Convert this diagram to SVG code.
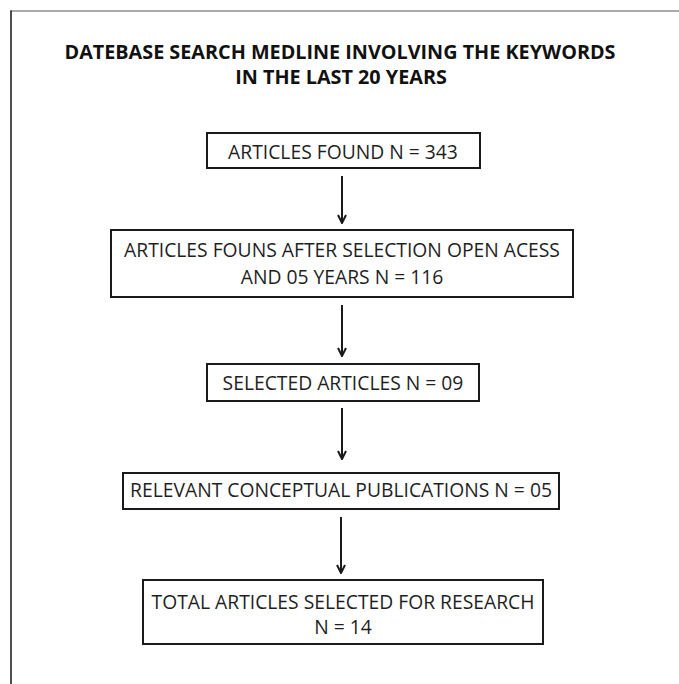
<svg xmlns="http://www.w3.org/2000/svg" width="679" height="684" viewBox="0 0 679 684">
  <style>
    .box { fill: #ffffff; stroke: #1a1a1a; stroke-width: 2; }
    .lbl { font-family: "Open Sans", "Noto Sans", "DejaVu Sans", sans-serif; font-size: 19.3px; fill: #1f1f1f; text-anchor: middle; }
    .title { font-family: "Open Sans", "Noto Sans", "DejaVu Sans", sans-serif; font-size: 19.8px; font-weight: 700; fill: #111111; text-anchor: middle; }
    .conn { stroke: #1a1a1a; stroke-width: 2; fill: none; marker-end: url(#head); }
  </style>
  <defs>
    <marker id="head" viewBox="0 0 10 10" refX="9" refY="5" markerWidth="5" markerHeight="5" orient="auto" markerUnits="strokeWidth">
      <path d="M1,1 L9,5 L1,9" fill="none" stroke="#1a1a1a" stroke-width="2"/>
    </marker>
  </defs>
  <rect width="679" height="684" fill="#ffffff"/>

  <!-- outer frame: top and left edges only -->
  <g id="frame">
    <line x1="10.5" y1="11" x2="679" y2="11" stroke="#555555" stroke-width="1.2"/>
    <line x1="11" y1="10.5" x2="11" y2="684" stroke="#222222" stroke-width="1.6"/>
  </g>

  <g id="title">
    <text class="title" x="340" y="59">DATEBASE SEARCH MEDLINE INVOLVING THE KEYWORDS</text>
    <text class="title" x="341" y="84">IN THE LAST 20 YEARS</text>
  </g>

  <g id="connectors">
    <line class="conn" x1="342" y1="176" x2="342" y2="223"/>
    <line class="conn" x1="342" y1="305" x2="342" y2="356"/>
    <line class="conn" x1="342" y1="408" x2="342" y2="459"/>
    <line class="conn" x1="341" y1="517" x2="341" y2="573"/>
  </g>

  <g id="found">
    <rect class="box" x="207" y="133" width="273" height="35"/>
    <text class="lbl" x="343" y="159">ARTICLES FOUND N = 343</text>
  </g>

  <g id="open-access">
    <rect class="box" x="111" y="230" width="462" height="67"/>
    <text class="lbl" x="342" y="257">ARTICLES FOUNS AFTER SELECTION OPEN ACESS</text>
    <text class="lbl" x="342" y="284">AND 05 YEARS N = 116</text>
  </g>

  <g id="selected">
    <rect class="box" x="207" y="364" width="272" height="37"/>
    <text class="lbl" x="343" y="390">SELECTED ARTICLES N = 09</text>
  </g>

  <g id="conceptual">
    <rect class="box" x="123" y="473" width="436" height="36"/>
    <text class="lbl" x="341" y="497">RELEVANT CONCEPTUAL PUBLICATIONS N = 05</text>
  </g>

  <g id="total">
    <rect class="box" x="143" y="580" width="400" height="64"/>
    <text class="lbl" x="343" y="609">TOTAL ARTICLES SELECTED FOR RESEARCH</text>
    <text class="lbl" x="343" y="634">N = 14</text>
  </g>
</svg>
